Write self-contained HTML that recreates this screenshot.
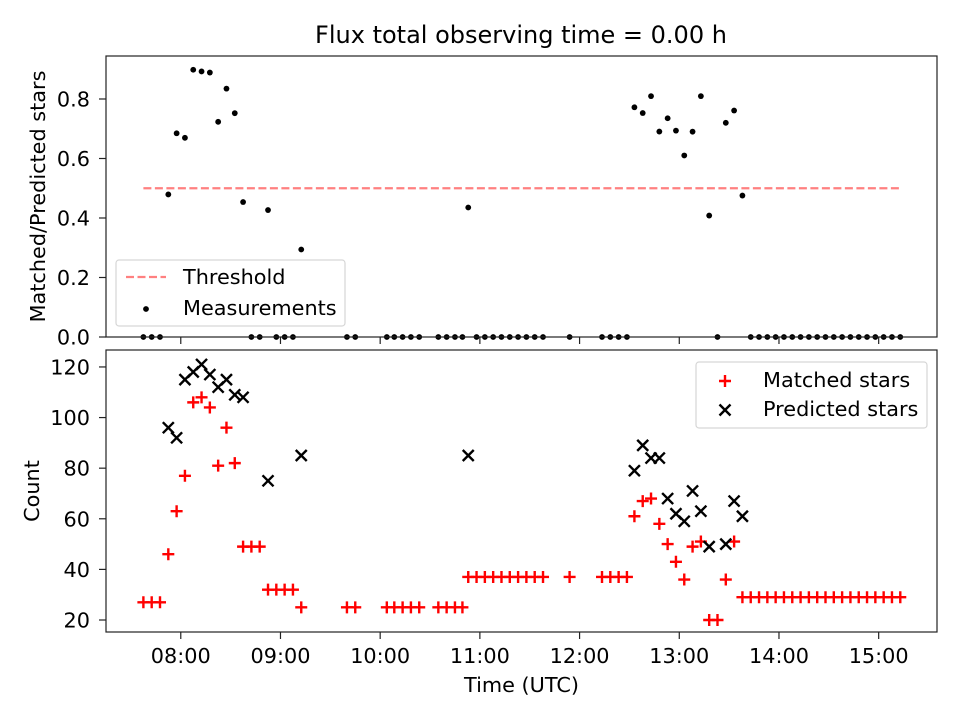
<!DOCTYPE html>
<html><head><meta charset="utf-8"><style>
body{margin:0;background:#fff;}
svg{display:block;font-family:"DejaVu Sans","Liberation Sans",sans-serif;}
</style></head><body>
<svg id="fig" width="960" height="720" viewBox="0 0 960 720">
<rect width="960" height="720" fill="#fff"/>
<text x="521" y="43" font-size="24" text-anchor="middle">Flux total observing time = 0.00 h</text>
<g id="topPanel"></g>
<g id="botPanel"></g>
</svg>
<script>
// times in minutes after midnight (UTC)
const times = [457.5,462.5,467.5,472.5,477.5,482.5,487.5,492.5,497.5,502.5,507.5,512.5,517.5,522.5,527.5,532.5,537.5,542.5,547.5,552.5,
580,585,604,608.5,613.5,618.5,623.5,635,640,645,649.5,
653,658,663,668,673,678,683,688,693,698,714,733.5,738.5,743.5,748.5,
753,758,763,768,773,778,783,788,793,798,803,808,813,818,
823,828,833,838,843,848,853,858,863,868,873,878,883,888,893,898,903,908,913];
const matched = [27,27,27,46,63,77,106,108,104,81,96,82,49,49,49,32,32,32,32,25,
25,25,25,25,25,25,25,25,25,25,25,
37,37,37,37,37,37,37,37,37,37,37,37,37,37,37,
61,67,68,58,50,43,36,49,51,20,20,36,51,29,
29,29,29,29,29,29,29,29,29,29,29,29,29,29,29,29,29,29,29];
const predicted = [null,null,null,96,92,115,118,121,117,112,115,109,108,null,null,75,null,null,null,85,
null,null,null,null,null,null,null,null,null,null,null,
85,null,null,null,null,null,null,null,null,null,null,null,null,null,null,
79,89,84,84,68,62,59,71,63,49,null,50,67,61,
null,null,null,null,null,null,null,null,null,null,null,null,null,null,null,null,null,null,null];
const threshold = 0.5;
const ratioTicks = [0,0.2,0.4,0.6,0.8];
const countTicks = [20,40,60,80,100,120];
const timeTicks = [480,540,600,660,720,780,840,900];
const timeLabels = ["08:00","09:00","10:00","11:00","12:00","13:00","14:00","15:00"];

const NS="http://www.w3.org/2000/svg";
const L=106,R=937;
const TT=56,TB=337,BT=350,BB=632;
const xMin=435.0,xMax=935.1;
const x=m=>L+(m-xMin)/(xMax-xMin)*(R-L);
const yTop=v=>TB-(v-0)/(0.9445-0)*(TB-TT);
const yBot=v=>BB-(v-15.26)/(126.7-15.26)*(BB-BT);
function el(p,tag,a){const e=document.createElementNS(NS,tag);for(const k in a)e.setAttribute(k,a[k]);p.appendChild(e);return e;}
const topG=document.getElementById('topPanel'),botG=document.getElementById('botPanel');
const FS=20.8;

function frame(g,y0,y1,name){
  const r=el(g,'rect',{x:L,y:y0,width:R-L,height:y1-y0,fill:'none',stroke:'#222','stroke-width':1.2});
  
  
}
function xticks(g,yb,labels){
  timeTicks.forEach((t,i)=>{
    const t1=el(g,'line',{x1:x(t),x2:x(t),y1:yb,y2:yb+7,stroke:'#222','stroke-width':1.2});
    
    
    if(labels){
      const tx=el(g,'text',{x:x(t),y:yb+31,'font-size':FS,'text-anchor':'middle'});
      tx.textContent=timeLabels[i];
      
      
    }
  });
}
// top panel
ratioTicks.forEach(v=>{
  el(topG,'line',{x1:L-7,x2:L,y1:yTop(v),y2:yTop(v),stroke:'#222','stroke-width':1.2});
  const t=el(topG,'text',{x:L-16,y:yTop(v)+7.5,'font-size':FS,'text-anchor':'end'});
  t.textContent=v.toFixed(1);
  
  
});
xticks(topG,TB,false);
const thr=el(topG,'line',{x1:x(times[0]),x2:x(times[times.length-1]),y1:yTop(threshold),y2:yTop(threshold),stroke:'#ff8080','stroke-width':2.2,'stroke-dasharray':'8,3.5'});


times.forEach((t,i)=>{
  const r=predicted[i]?matched[i]/predicted[i]:0;
  const c=el(topG,'circle',{cx:x(t),cy:yTop(r),r:2.9,fill:'#000'});
  
  
});
frame(topG,TT,TB,'ratio-axes-frame');
const yl1=el(topG,'text',{x:0,y:0,'font-size':FS,'text-anchor':'middle',transform:`translate(45,${(TT+TB)/2}) rotate(-90)`});
yl1.textContent='Matched/Predicted stars';


// top legend
const lg1=el(topG,'g',{});


el(lg1,'rect',{x:116,y:260,width:229,height:66,rx:3,fill:'#fff','fill-opacity':0.8,stroke:'#d6d6d6','stroke-width':1.2});
el(lg1,'line',{x1:126,x2:166,y1:277,y2:277,stroke:'#ff8080','stroke-width':2.2,'stroke-dasharray':'8,3.5'});
const lt1=el(lg1,'text',{x:183,y:284,'font-size':FS});lt1.textContent='Threshold';
el(lg1,'circle',{cx:146,cy:309,r:2.9,fill:'#000'});
const lt2=el(lg1,'text',{x:183,y:315,'font-size':FS});lt2.textContent='Measurements';

// bottom panel
countTicks.forEach(v=>{
  el(botG,'line',{x1:L-7,x2:L,y1:yBot(v),y2:yBot(v),stroke:'#222','stroke-width':1.2});
  const t=el(botG,'text',{x:L-16,y:yBot(v)+7.5,'font-size':FS,'text-anchor':'end'});
  t.textContent=v;
  
  
});
xticks(botG,BB,true);
function plus(g,cx,cy){
  return el(g,'path',{d:`M${cx-6},${cy}H${cx+6}M${cx},${cy-6}V${cy+6}`,stroke:'#f00','stroke-width':2.4});
}
function cross(g,cx,cy){
  return el(g,'path',{d:`M${cx-5.5},${cy-5.5}L${cx+5.5},${cy+5.5}M${cx-5.5},${cy+5.5}L${cx+5.5},${cy-5.5}`,stroke:'#000','stroke-width':2.4});
}
times.forEach((t,i)=>{
  const p=plus(botG,x(t),yBot(matched[i]));
  
  
});
times.forEach((t,i)=>{
  if(predicted[i]==null)return;
  const c=cross(botG,x(t),yBot(predicted[i]));
  
  
});
frame(botG,BT,BB,'count-axes-frame');
const yl2=el(botG,'text',{x:0,y:0,'font-size':FS,'text-anchor':'middle',transform:`translate(39,${(BT+BB)/2}) rotate(-90)`});
yl2.textContent='Count';


const xl=el(botG,'text',{x:(L+R)/2,y:692,'font-size':FS,'text-anchor':'middle'});
xl.textContent='Time (UTC)';


const lg2=el(botG,'g',{});


el(lg2,'rect',{x:696,y:362,width:231,height:66,rx:3,fill:'#fff','fill-opacity':0.8,stroke:'#d6d6d6','stroke-width':1.2});
plus(lg2,725,381);
const lt3=el(lg2,'text',{x:763,y:387,'font-size':FS});lt3.textContent='Matched stars';
cross(lg2,725,410);
const lt4=el(lg2,'text',{x:763,y:416,'font-size':FS});lt4.textContent='Predicted stars';
</script>
</body></html>
